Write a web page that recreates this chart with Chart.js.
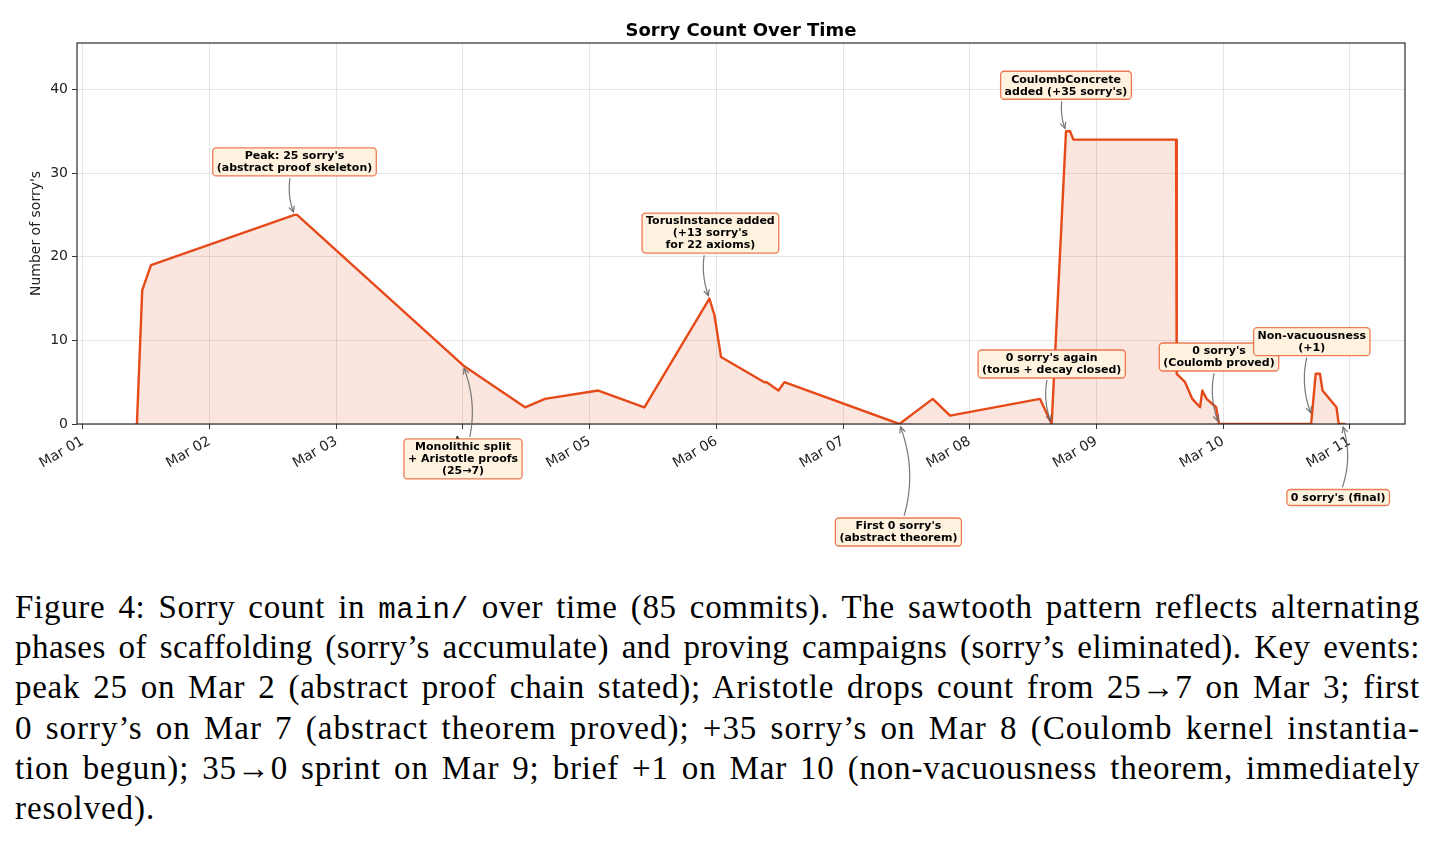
<!DOCTYPE html>
<html>
<head>
<meta charset="utf-8">
<script src="https://cdn.jsdelivr.net/npm/chart.js@4.4.1/dist/chart.umd.min.js"></script>
<style>
html,body{margin:0;padding:0;background:#fff;}
#wrap{position:absolute;left:0;top:0;width:1435px;height:560px;}
#caption{position:absolute;left:15px;top:587px;width:1405px;font-family:'Liberation Serif','DejaVu Serif',serif;font-size:33px;line-height:40.2px;color:#000;}
.ln{white-space:nowrap;display:block;height:40.2px;overflow:visible;}
.tt{font-family:'Liberation Mono','DejaVu Sans Mono',monospace;font-size:29px;line-height:1;}
</style>
</head>
<body>
<div id="wrap"><canvas id="c" width="1435" height="560"></canvas></div>
<div id="caption">
<span class="ln j">Figure 4: Sorry count in <span class="tt">main/</span> over time (85 commits). The sawtooth pattern reflects alternating</span>
<span class="ln j">phases of scaffolding (sorry’s accumulate) and proving campaigns (sorry’s eliminated). Key events:</span>
<span class="ln j">peak 25 on Mar 2 (abstract proof chain stated); Aristotle drops count from 25→7 on Mar 3; first</span>
<span class="ln j">0 sorry’s on Mar 7 (abstract theorem proved); +35 sorry’s on Mar 8 (Coulomb kernel instantia-</span>
<span class="ln j">tion begun); 35→0 sprint on Mar 9; brief +1 on Mar 10 (non-vacuousness theorem, immediately</span>
<span class="ln last">resolved).</span>
</div>
<script>
// ---- data ----
const dayLabels = ['Mar 01','Mar 02','Mar 03','Mar 04','Mar 05','Mar 06','Mar 07','Mar 08','Mar 09','Mar 10','Mar 11'];
const tickDays = [0,1,2,3,4,5,6,7,8,9,10];
const yTicks = [0,10,20,30,40];
// commit time in days after Mar 01 00:00
const commitDays = [0.426,0.468,0.537,1.670,1.690,3.002,3.490,3.647,4.068,4.432,4.945,4.985,5.037,5.379,5.397,5.490,5.537,6.445,6.708,6.845,7.555,7.647,7.760,7.792,7.818,8.629,8.634,8.700,8.757,8.818,8.836,8.870,8.945,8.968,9.695,9.731,9.765,9.785,9.895,9.913,9.966];
const sorryCounts = [0,16,19,25,25,7,2,3,4,2,15,13,8,5,5,4,5,0,3,1,3,0,35,35,34,34,6,5,3,2,4,3,2,0,0,6,6,4,2,0,0];

const annTexts = [
  "Peak: 25 sorry's\n(abstract proof skeleton)",
  "Monolithic split\n+ Aristotle proofs\n(25\u21927)",
  "TorusInstance added\n(+13 sorry's\nfor 22 axioms)",
  "First 0 sorry's\n(abstract theorem)",
  "0 sorry's again\n(torus + decay closed)",
  "CoulombConcrete\nadded (+35 sorry's)",
  "0 sorry's\n(Coulomb proved)",
  "Non-vacuousness\n(+1)",
  "0 sorry's (final)"
];
const annDays = [1.67,3.0,4.945,6.445,7.647,7.76,8.968,9.70,9.94];
const annCounts = [25,7,15,0,0,35,0,1,0];

// ---- layout (pixel offsets of box centre from the annotated point) ----
const annOffsets = [[0,-53],[0,93.5],[1,-65.5],[-1,108],[0,-60],[0,-46],[0,-67],[0,-74],[-4,73.5]];

const LINE = '#E64A19';
const FILL = 'rgba(230,74,25,0.14)';

function qpt(p0,c,p1,t){const u=1-t;return [u*u*p0[0]+2*u*t*c[0]+t*t*p1[0], u*u*p0[1]+2*u*t*c[1]+t*t*p1[1]];}
function rrect(ctx,x,y,w,h,r){ctx.beginPath();ctx.moveTo(x+r,y);ctx.lineTo(x+w-r,y);ctx.arcTo(x+w,y,x+w,y+r,r);ctx.lineTo(x+w,y+h-r);ctx.arcTo(x+w,y+h,x+w-r,y+h,r);ctx.lineTo(x+r,y+h);ctx.arcTo(x,y+h,x,y+h-r,r);ctx.lineTo(x,y+r);ctx.arcTo(x,y,x+r,y,r);ctx.closePath();}

const annPlugin = {
  id:'ann',
  afterDraw(chart){
    const ctx = chart.ctx, xs = chart.scales.x, ys = chart.scales.y, a = chart.chartArea;
    ctx.save();
    ctx.strokeStyle = '#2b2b2b'; ctx.lineWidth = 1.2;
    ctx.strokeRect(a.left, a.top, a.right-a.left, a.bottom-a.top);
    ctx.font = 'bold 11px "DejaVu Sans"';
    const padX = 4, padY = 2, lineH = 12;
    annTexts.forEach((txt,i)=>{
      const tx = xs.getPixelForValue(annDays[i]), ty = ys.getPixelForValue(annCounts[i]);
      const cx = tx + annOffsets[i][0], cy = ty + annOffsets[i][1];
      const lines = txt.split('\n');
      const w = Math.max(...lines.map(l=>ctx.measureText(l).width)) + 2*padX;
      const h = lines.length*lineH + 2*padY;
      const L = cx-w/2, T = cy-h/2;
      // arrow (arc3, rad=0.2)
      const p0=[cx,cy], p1=[tx,ty];
      const dx=p1[0]-p0[0], dy=p1[1]-p0[1];
      const c=[(p0[0]+p1[0])/2 - 0.2*dy, (p0[1]+p1[1])/2 + 0.2*dx];
      const N=300; let t0=0, t1=1;
      for(let k=0;k<=N;k++){const t=k/N;const p=qpt(p0,c,p1,t);
        if(p[0]<L-2||p[0]>L+w+2||p[1]<T-2||p[1]>T+h+2){t0=t;break;}}
      for(let k=N;k>=0;k--){const t=k/N;const p=qpt(p0,c,p1,t);
        if(Math.hypot(p[0]-tx,p[1]-ty)>=3){t1=t;break;}}
      ctx.strokeStyle='rgba(105,105,105,0.9)'; ctx.lineWidth=1.2;
      ctx.beginPath();
      for(let k=0;k<=60;k++){const t=t0+(t1-t0)*k/60;const p=qpt(p0,c,p1,t);
        if(k===0)ctx.moveTo(p[0],p[1]);else ctx.lineTo(p[0],p[1]);}
      ctx.stroke();
      const e=qpt(p0,c,p1,t1), pe=qpt(p0,c,p1,Math.max(t0,t1-0.03));
      const ang=Math.atan2(e[1]-pe[1], e[0]-pe[0]);
      const hl=6.5, hw=0.45;
      ctx.beginPath();
      ctx.moveTo(e[0]-hl*Math.cos(ang-hw), e[1]-hl*Math.sin(ang-hw));
      ctx.lineTo(e[0],e[1]);
      ctx.lineTo(e[0]-hl*Math.cos(ang+hw), e[1]-hl*Math.sin(ang+hw));
      ctx.stroke();
      // box
      rrect(ctx,L,T,w,h,3.5);
      ctx.fillStyle='#FFF3E0'; ctx.fill();
      ctx.strokeStyle='rgba(230,74,25,0.72)'; ctx.lineWidth=1.3; ctx.stroke();
      ctx.fillStyle='#000'; ctx.textAlign='center'; ctx.textBaseline='middle';
      lines.forEach((l,k)=>ctx.fillText(l, cx, T+padY+lineH*(k+0.5)+0.5));
    });
    ctx.restore();
  }
};

const tickFont = {family:'DejaVu Sans', size:14};
new Chart(document.getElementById('c'), {
  type:'line',
  data:{datasets:[{
    data: commitDays.map((d,i)=>({x:d, y:sorryCounts[i]})),
    borderColor: LINE, borderWidth: 2.4, backgroundColor: FILL,
    fill:'origin', pointRadius:0, tension:0, borderJoinStyle:'round'
  }]},
  options:{
    responsive:false, animation:false, devicePixelRatio:1,
    layout:{padding:{left:0,right:30,top:0,bottom:76}},
    plugins:{
      legend:{display:false}, tooltip:{enabled:false},
      title:{display:true, text:'Sorry Count Over Time', fullSize:false, color:'#000',
        font:{family:'DejaVu Sans', size:18, weight:'bold'}, padding:{top:20.5,bottom:0.9}}
    },
    scales:{
      x:{type:'linear', min:-0.047, max:10.436,
        afterBuildTicks:s=>{s.ticks = tickDays.map(v=>({value:v}));},
        afterFit:s=>{s.height=60;},
        ticks:{callback:(v,i)=>dayLabels[i], minRotation:30, maxRotation:30, autoSkip:false,
          font:tickFont, color:'#222', padding:4},
        grid:{color:'rgba(0,0,0,0.1)', lineWidth:1, tickColor:'#333', tickLength:5, tickWidth:1},
        border:{display:false}
      },
      y:{min:0, max:45.55,
        afterBuildTicks:s=>{s.ticks = yTicks.map(v=>({value:v}));},
        afterFit:s=>{s.width=77;},
        ticks:{font:tickFont, color:'#222', padding:4},
        grid:{color:'rgba(0,0,0,0.1)', lineWidth:1, tickColor:'#333', tickLength:5, tickWidth:1},
        border:{display:false},
        title:{display:true, text:"Number of sorry's", font:tickFont, color:'#222', padding:{top:28,bottom:0}}
      }
    }
  },
  plugins:[annPlugin]
});

// justify caption lines (slight tracking + word spacing, like TeX's wider glyphs)
document.querySelectorAll('#caption .ln').forEach(el=>{
  el.style.display='inline-block'; el.style.wordSpacing='0px'; el.style.letterSpacing='0px';
  const w0 = el.getBoundingClientRect().width;
  const text = el.textContent.trim();
  const n = text.length;
  const spaces = text.split(/\s+/).length-1;
  let ls = 0.9;
  if (el.classList.contains('j')) {
    const E = 1405 - w0;
    ls = Math.max(0, Math.min(1.1, (E - spaces*4)/n));
    el.style.letterSpacing = ls+'px';
    el.style.wordSpacing = ((E - ls*n)/spaces) + 'px';
  } else {
    el.style.letterSpacing = ls+'px';
  }
  el.style.display='block';
});
</script>
</body>
</html>
